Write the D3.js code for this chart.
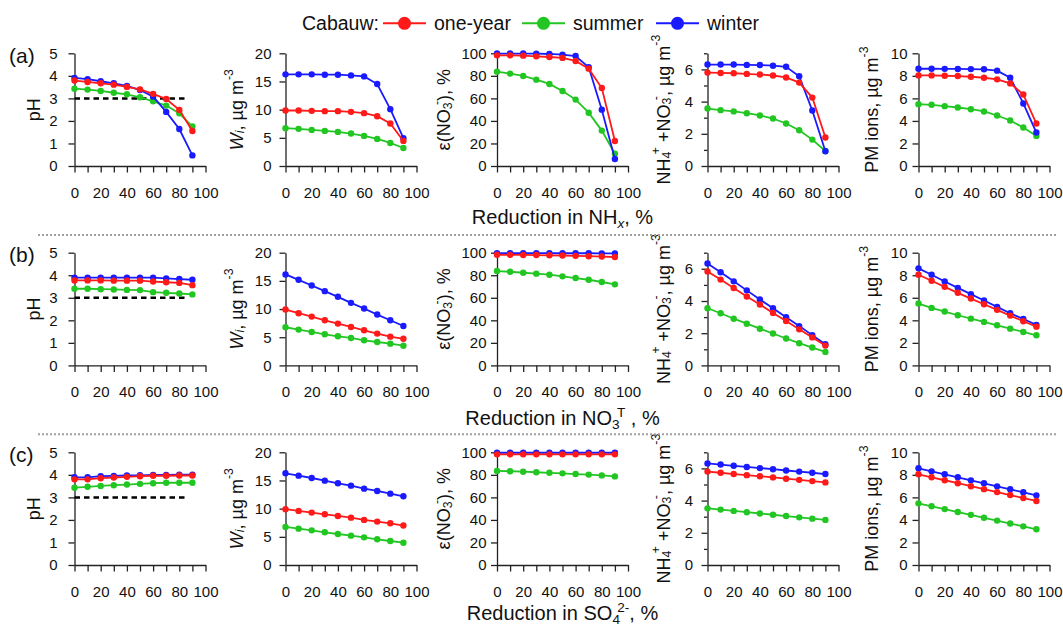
<!DOCTYPE html>
<html>
<head>
<meta charset="utf-8">
<script src="https://cdn.jsdelivr.net/npm/d3@7"></script>
<style>
  body { margin: 0; background: #fff; }
  svg { font-family: "Liberation Sans", Arial, sans-serif; }
</style>
</head>
<body>
<svg id="chart" width="1063" height="626"></svg>
<script>
// reduction steps, %
const reductions = [0, 10, 20, 30, 40, 50, 60, 70, 80, 90];
const seriesNames = ["one-year", "summer", "winter"];
const seriesColors = ["#ff1a1a", "#22c622", "#1a1aff"];

// each panel: [one-year, summer, winter]
// (a) reduction in NHx
const pH_NHx = [[3.79, 3.73, 3.67, 3.61, 3.51, 3.40, 3.20, 2.97, 2.49, 1.55],
                [3.43, 3.39, 3.33, 3.25, 3.18, 3.05, 2.87, 2.68, 2.34, 1.75],
                [3.91, 3.85, 3.76, 3.67, 3.55, 3.37, 3.08, 2.40, 1.64, 0.47]];
const wi_NHx = [[9.85, 9.85, 9.79, 9.73, 9.73, 9.61, 9.38, 8.84, 7.54, 4.45],
                [6.71, 6.59, 6.41, 6.23, 6.05, 5.76, 5.34, 4.81, 4.09, 3.20],
                [16.26, 16.26, 16.26, 16.2, 16.2, 16.08, 15.9, 14.54, 10.09, 4.93]];
const eps_NHx = [[98.2, 98.2, 97.9, 97.3, 96.7, 95.9, 93.2, 86.4, 69.2, 22.2],
                 [83.7, 82.0, 79.9, 76.6, 72.8, 66.6, 58.9, 47.3, 31.4, 10.9],
                 [99.8, 99.8, 99.8, 99.7, 99.4, 98.8, 97.6, 87.6, 50.0, 6.2]];
const ion_NHx = [[5.80, 5.78, 5.76, 5.72, 5.68, 5.62, 5.50, 5.18, 4.25, 1.77],
                 [3.57, 3.47, 3.39, 3.28, 3.14, 2.95, 2.64, 2.22, 1.64, 0.93],
                 [6.30, 6.30, 6.30, 6.28, 6.27, 6.23, 6.16, 5.57, 3.45, 0.92]];
const pm_NHx = [[8.04, 8.04, 8.01, 7.98, 7.92, 7.83, 7.69, 7.33, 6.35, 3.77],
                [5.49, 5.43, 5.31, 5.19, 5.04, 4.84, 4.48, 4.04, 3.41, 2.67],
                [8.63, 8.63, 8.62, 8.61, 8.60, 8.58, 8.46, 7.83, 5.55, 2.97]];

// (b) reduction in NO3T
const pH_NO3 = [[3.77, 3.77, 3.77, 3.76, 3.76, 3.76, 3.72, 3.69, 3.66, 3.56],
                [3.40, 3.40, 3.38, 3.37, 3.35, 3.34, 3.25, 3.22, 3.19, 3.15],
                [3.89, 3.89, 3.89, 3.89, 3.89, 3.89, 3.89, 3.86, 3.83, 3.80]];
const wi_NO3 = [[9.91, 9.26, 8.66, 8.01, 7.42, 6.82, 6.23, 5.64, 5.10, 4.72],
                [6.77, 6.35, 5.93, 5.52, 5.16, 4.87, 4.45, 4.15, 3.86, 3.50],
                [16.14, 15.19, 14.18, 13.18, 12.17, 11.1, 10.09, 9.02, 8.01, 7.0]];
const eps_NO3 = [[98.2, 98.1, 98.0, 97.9, 97.7, 97.5, 97.2, 96.9, 96.6, 96.2],
                 [83.7, 83.1, 82.2, 81.4, 80.5, 79.0, 77.5, 76.0, 74.0, 71.9],
                 [99.6, 99.6, 99.6, 99.6, 99.6, 99.5, 99.5, 99.5, 99.4, 99.4]];
const ion_NO3 = [[5.83, 5.33, 4.81, 4.28, 3.78, 3.26, 2.76, 2.24, 1.74, 1.23],
                 [3.55, 3.24, 2.90, 2.59, 2.28, 1.98, 1.67, 1.38, 1.11, 0.84],
                 [6.33, 5.79, 5.22, 4.66, 4.10, 3.55, 2.99, 2.44, 1.88, 1.32]];
const pm_NO3 = [[8.04, 7.51, 6.97, 6.44, 5.93, 5.43, 4.93, 4.42, 3.92, 3.44],
                [5.49, 5.10, 4.78, 4.45, 4.15, 3.86, 3.56, 3.26, 2.97, 2.67],
                [8.61, 8.04, 7.45, 6.88, 6.32, 5.76, 5.19, 4.63, 4.12, 3.59]];

// (c) reduction in SO4
const pH_SO4 = [[3.80, 3.80, 3.85, 3.88, 3.91, 3.94, 3.96, 3.96, 3.97, 3.97],
                [3.43, 3.47, 3.51, 3.54, 3.57, 3.60, 3.63, 3.65, 3.65, 3.65],
                [3.89, 3.89, 3.94, 3.95, 3.97, 3.98, 4.00, 4.00, 4.01, 4.01]];
const wi_SO4 = [[9.9, 9.6, 9.3, 9.0, 8.7, 8.4, 8.0, 7.7, 7.4, 7.0],
                [6.75, 6.45, 6.15, 5.80, 5.50, 5.21, 4.91, 4.56, 4.26, 3.96],
                [16.27, 15.86, 15.44, 14.97, 14.5, 14.08, 13.55, 13.14, 12.66, 12.19]];
const eps_SO4 = [[98.2, 98.2, 98.2, 98.2, 98.2, 98.2, 98.2, 98.2, 98.2, 98.2],
                 [83.5, 83.2, 82.8, 82.3, 81.8, 81.3, 80.7, 80.2, 79.5, 78.6],
                 [99.6, 99.6, 99.6, 99.6, 99.6, 99.6, 99.6, 99.6, 99.6, 99.6]];
const ion_SO4 = [[5.80, 5.73, 5.65, 5.58, 5.51, 5.44, 5.36, 5.29, 5.21, 5.13],
                 [3.52, 3.44, 3.36, 3.28, 3.20, 3.12, 3.04, 2.96, 2.88, 2.80],
                 [6.31, 6.24, 6.16, 6.09, 6.02, 5.95, 5.87, 5.80, 5.73, 5.65]];
const pm_SO4 = [[8.05, 7.78, 7.52, 7.26, 6.99, 6.73, 6.47, 6.21, 5.94, 5.68],
                [5.47, 5.21, 4.96, 4.70, 4.45, 4.19, 3.94, 3.68, 3.43, 3.17],
                [8.58, 8.31, 8.05, 7.78, 7.51, 7.25, 6.98, 6.72, 6.45, 6.18]];

// pH = 3 reference line, drawn from 0 to ~87 %
const pHLimit = 3;
const pHLimitEnd = 87;

const rows = [
  { label: "(a)", panels: [pH_NHx, wi_NHx, eps_NHx, ion_NHx, pm_NHx] },
  { label: "(b)", panels: [pH_NO3, wi_NO3, eps_NO3, ion_NO3, pm_NO3] },
  { label: "(c)", panels: [pH_SO4, wi_SO4, eps_SO4, ion_SO4, pm_SO4] }
];

const svg = d3.select("#chart");

// layout
const colX = [74.5, 285.5, 497, 707.5, 918.5];
const rowY = [53.3, 252.7, 452.3];
const titleY = [224, 424.5, 619.5];
const pw = 131, ph = 112.7;
const textColor = "#111";
const axisColor = "#222";

// per-column y settings
const columns = [
  { max: 5, step: 1, labelStep: 1, titleDx: -40, pad: 11,
    title: [["pH"]] },
  { max: 20, step: 5, labelStep: 5, titleDx: -48, pad: 8,
    title: [["W", "it"], ["i", "itsub"], [", \u00b5g m"], ["-3", "sup"]] },
  { max: 100, step: 20, labelStep: 20, titleDx: -52, pad: 4.5,
    title: [["\u03b5(NO"], ["3", "sub"], ["-", "supback"], ["), %"]] },
  { max: 7, step: 1, labelStep: 2, titleDx: -43, pad: 8.5,
    title: [["NH"], ["4", "sub"], ["+", "supback"], [" +NO"], ["3", "sub"], ["-", "supback"], [", \u00b5g m"], ["-3", "sup"]] },
  { max: 10, step: 2, labelStep: 2, titleDx: -46, pad: 5,
    title: [["PM ions, \u00b5g m"], ["-3", "sup"]] }
];

const xTitles = [
  [["Reduction in NH"], ["x", "itsub"], [", %"]],
  [["Reduction in NO"], ["3", "sub"], ["T", "supback"], [" , %"]],
  [["Reduction in SO"], ["4", "sub"], ["2-", "supback"], [", %"]]
];

// writes text parts with sub/superscripts as tspans
function writeParts(text, parts, size) {
  const small = size * 0.68;
  let shift = 0;
  parts.forEach(([str, kind]) => {
    const t = text.append("tspan").text(str);
    let target = 0;
    if (kind === "sub" || kind === "itsub") target = size * 0.22;
    if (kind === "sup" || kind === "supback") target = -size * 0.4;
    t.attr("dy", target - shift);
    shift = target;
    if (kind === "supback") t.attr("dx", -small * 0.2);
    if (kind && kind !== "it") t.attr("font-size", small);
    if (kind === "it" || kind === "itsub") t.attr("font-style", "italic");
  });
}

const x = d3.scaleLinear().domain([0, 100]).range([0, pw]);

rows.forEach((row, r) => {
  row.panels.forEach((series, c) => {
    const col = columns[c];
    const g = svg.append("g").attr("transform", `translate(${colX[c]},${rowY[r]})`);
    const y = d3.scaleLinear().domain([0, col.max]).range([ph, 0]);

    // x axis
    g.append("g").attr("transform", `translate(0,${ph})`)
      .call(d3.axisBottom(x).tickValues(d3.range(0, 101, 10))
        .tickFormat(d => d % 20 === 0 ? d : "")
        .tickSize(6.5).tickSizeOuter(0).tickPadding(14.5));

    // y axis (minor ticks where labels skip)
    g.append("g")
      .call(d3.axisLeft(y).tickValues(d3.range(0, col.max + 0.001, col.labelStep))
        .tickFormat(d3.format("d"))
        .tickSize(6).tickSizeOuter(0).tickPadding(col.pad));
    if (col.step !== col.labelStep) {
      g.append("g")
        .call(d3.axisLeft(y).tickValues(d3.range(0, col.max + 0.001, col.step)
            .filter(v => v % col.labelStep !== 0))
          .tickFormat("").tickSize(3.5).tickSizeOuter(0))
        .select(".domain").remove();
    }

    g.selectAll(".domain").attr("stroke", axisColor).attr("stroke-width", 1.3);
    g.selectAll(".tick line").attr("stroke", axisColor).attr("stroke-width", 1.3);
    g.selectAll(".tick text").attr("font-size", 15).attr("fill", textColor)
      .attr("font-family", "Liberation Sans, Arial, sans-serif");

    // pH reference line
    if (c === 0) {
      g.append("line")
        .attr("x1", x(0)).attr("x2", x(pHLimitEnd))
        .attr("y1", y(pHLimit)).attr("y2", y(pHLimit))
        .attr("stroke", "#000").attr("stroke-width", 2.5)
        .attr("stroke-dasharray", "5.5,4");
    }

    // series: summer, winter, then one-year on top
    const line = d3.line().x((d, i) => x(reductions[i])).y(d => y(d));
    [1, 2, 0].forEach(s => {
      g.append("path").datum(series[s])
        .attr("d", line).attr("fill", "none")
        .attr("stroke", seriesColors[s]).attr("stroke-width", 1.8);
      g.selectAll(null).data(series[s]).join("circle")
        .attr("cx", (d, i) => x(reductions[i])).attr("cy", d => y(d))
        .attr("r", 3.2).attr("fill", seriesColors[s]);
    });

    // y title
    const yt = g.append("text")
      .attr("transform", `translate(${col.titleDx},${ph / 2}) rotate(-90)`)
      .attr("text-anchor", "middle").attr("font-size", 18).attr("fill", textColor)
      .attr("dominant-baseline", "middle");
    writeParts(yt, col.title, 18);
  });

  // row label
  svg.append("text").attr("x", 9).attr("y", rowY[r] + 9.5)
    .attr("font-size", 21).attr("fill", textColor).text(row.label);

  // x title, centred under the middle panel
  const xt = svg.append("text")
    .attr("x", colX[2] + pw / 2).attr("y", titleY[r])
    .attr("text-anchor", "middle").attr("font-size", 20).attr("fill", textColor);
  writeParts(xt, xTitles[r], 20);
});

// dotted separators between rows
[235, 434.3].forEach(yy => {
  svg.append("line").attr("x1", 38).attr("x2", 1058).attr("y1", yy).attr("y2", yy)
    .attr("stroke", "#a0a0a0").attr("stroke-width", 2).attr("stroke-dasharray", "2,2");
});

// legend
const legend = svg.append("g").attr("transform", "translate(0,23.3)");
legend.append("text").attr("x", 302).attr("dy", "0.35em")
  .attr("font-size", 19.5).attr("fill", textColor).text("Cabauw:");
const legendX = [383, 522, 656];
seriesNames.forEach((name, i) => {
  const lx = legendX[i];
  legend.append("line").attr("x1", lx).attr("x2", lx + 43)
    .attr("stroke", seriesColors[i]).attr("stroke-width", 2);
  legend.append("circle").attr("cx", lx + 21.5).attr("r", 6.5).attr("fill", seriesColors[i]);
  legend.append("text").attr("x", lx + 51).attr("dy", "0.35em")
    .attr("font-size", 19.5).attr("fill", textColor).text(name);
});
</script>
</body>
</html>
